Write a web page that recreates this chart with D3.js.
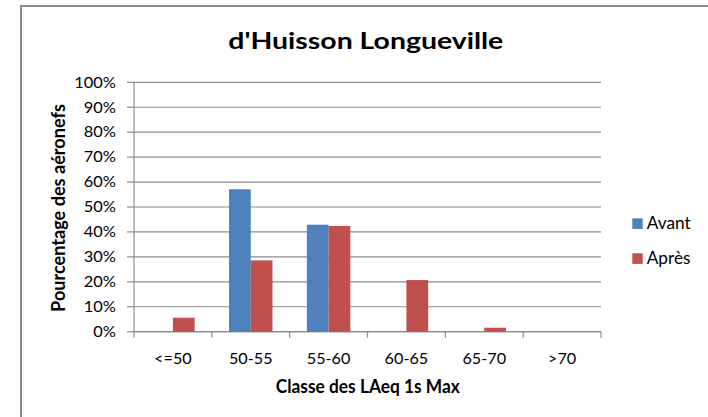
<!DOCTYPE html>
<html><head><meta charset="utf-8">
<script src="https://cdn.jsdelivr.net/npm/d3@7"></script>
<style>html,body{margin:0;padding:0;background:#fff;overflow:hidden}</style>
</head><body>
<svg id="c" width="708" height="417"></svg>
<script>
const categories = ["<=50","50-55","55-60","60-65","65-70",">70"];
const seriesNames = ["Avant","Après"];
const avant = [0, 57.1, 42.9, 0, 0, 0];
const apres = [5.6, 28.6, 42.4, 20.7, 1.6, 0];
const yTicks = [0,10,20,30,40,50,60,70,80,90,100];
const colors = ["#4F81BD","#C0504D"];
const title = "d'Huisson Longueville";
const xTitle = "Classe des LAeq 1s Max";
const yTitle = "Pourcentage des aéronefs";

const svg = d3.select("#c");
const FONT = "Lato, 'Open Sans', sans-serif";
const L = 134, R = 601, T = 82.3, B = 331.7;

svg.append("rect").attr("x",21).attr("y",6).attr("width",720).attr("height",430)
  .attr("fill","none").attr("stroke","#8a8a8a").attr("stroke-width",2);

const x = d3.scaleBand().domain(categories).range([L,R]).padding(0);
const xs = d3.scaleBand().domain(seriesNames).range([0,x.bandwidth()]).paddingInner(0).paddingOuter(0.79);
const y = d3.scaleLinear().domain([0,100]).range([B,T]);

svg.append("g").selectAll("line").data(yTicks).join("line")
  .attr("x1",L).attr("x2",R).attr("y1",d=>y(d)).attr("y2",d=>y(d))
  .attr("stroke","#8c8c8c").attr("stroke-width",1.2);
svg.append("g").selectAll("line").data(yTicks).join("line")
  .attr("x1",L-7).attr("x2",L).attr("y1",d=>y(d)).attr("y2",d=>y(d))
  .attr("stroke","#8c8c8c").attr("stroke-width",1.2);
svg.append("line").attr("x1",L).attr("x2",L).attr("y1",T).attr("y2",B).attr("stroke","#8c8c8c").attr("stroke-width",1.2);
svg.append("line").attr("x1",L).attr("x2",R).attr("y1",B).attr("y2",B).attr("stroke","#8c8c8c").attr("stroke-width",1.2);
const bounds = categories.map(c=>x(c)).concat([x.range()[1]]);
svg.append("g").selectAll("line").data(bounds).join("line")
  .attr("x1",d=>d).attr("x2",d=>d).attr("y1",B).attr("y2",B+6)
  .attr("stroke","#8c8c8c").attr("stroke-width",1.2);

const data = [avant, apres];
data.forEach((vals,si)=>{
  svg.append("g").selectAll("rect").data(vals).join("rect")
    .attr("x",(d,i)=>x(categories[i])+xs(seriesNames[si]))
    .attr("width",xs.bandwidth())
    .attr("y",d=>y(d)).attr("height",d=>B-y(d))
    .attr("fill",colors[si]);
});

function stretch(fontSize, weight, ref, target){
  const t = svg.append("text").attr("font-family",FONT).attr("font-size",fontSize).attr("font-weight",weight).text(ref);
  const w = t.node().getComputedTextLength(); t.remove();
  return target / w;
}

const sT = stretch(22,700,title,275);
svg.append("text").attr("transform",`translate(365.8,48.5) scale(${sT},1)`)
  .attr("text-anchor","middle").attr("font-family",FONT).attr("font-size",22).attr("font-weight",700)
  .attr("fill","#000").text(title);

const TK = 15.5;
const sY = stretch(TK,400,"100%",41.7);
svg.append("g").selectAll("text").data(yTicks).join("text")
  .attr("transform",d=>`translate(116,${y(d)+5.3}) scale(${sY},1)`)
  .attr("text-anchor","end").attr("font-family",FONT).attr("font-size",TK).attr("fill","#000")
  .text(d=>d+"%");

const sX = stretch(TK,400,"50-55",43.7);
svg.append("g").selectAll("text").data(categories).join("text")
  .attr("transform",d=>`translate(${x(d)+x.bandwidth()/2},363.6) scale(${sX},1)`)
  .attr("text-anchor","middle").attr("font-family",FONT).attr("font-size",TK).attr("fill","#000")
  .text(d=>d);

const sXT = stretch(18,700,xTitle,184);
svg.append("text").attr("transform",`translate(367.8,392.8) scale(${sXT},1)`)
  .attr("text-anchor","middle").attr("font-family",FONT).attr("font-size",18).attr("font-weight",700)
  .attr("fill","#000").text(xTitle);

(function(){
  const t = svg.append("text").attr("font-family",FONT).attr("font-size",10).attr("font-weight",700).text(yTitle);
  const w10 = t.node().getComputedTextLength(); t.remove();
  const fs = 10*208/w10;
  const sx = 13.3/(0.72*fs);
  svg.append("text").attr("transform",`translate(64.5,208) scale(${sx},1) rotate(-90)`)
    .attr("text-anchor","middle").attr("font-family",FONT).attr("font-size",fs).attr("font-weight",700)
    .attr("fill","#000").text(yTitle);
})();

const sL = stretch(18,400,"Avant",44);
const lg = svg.append("g");
const legY = [218.3, 253.3];
seriesNames.forEach((n,i)=>{
  lg.append("rect").attr("x",632.3).attr("y",legY[i]).attr("width",10.4).attr("height",10.6).attr("fill",colors[i]);
  lg.append("text").attr("transform",`translate(646.7,${legY[i]+10.8}) scale(${sL},1)`)
    .attr("font-family",FONT).attr("font-size",18).attr("fill","#000").text(n);
});
</script>
</body></html>
